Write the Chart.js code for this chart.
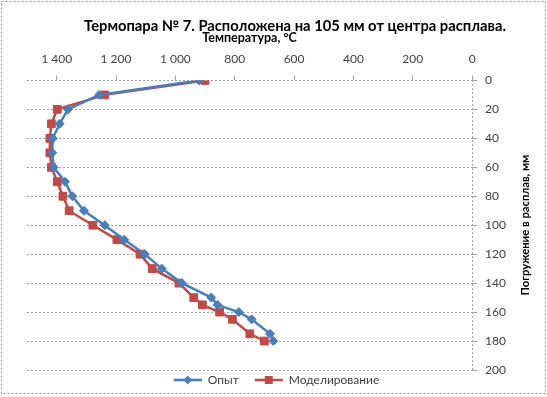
<!DOCTYPE html>
<html>
<head>
<meta charset="utf-8">
<script src="https://cdn.jsdelivr.net/npm/chart.js@4"></script>
<style>
  html, body { margin: 0; padding: 0; background: #fff; }
  #wrap { width: 547px; height: 397px; }
</style>
</head>
<body>
<div id="wrap"><canvas id="chart"></canvas></div>
<script>
// глубина погружения, мм
const depths = [0, 10, 20, 30, 40, 50, 60, 70, 80, 90, 100, 110, 120, 130, 140, 150, 155, 160, 165, 175, 180];
// температура, °С
const opyt = [920, 1257, 1362, 1390, 1413, 1415, 1410, 1372, 1347, 1308, 1238, 1172, 1103, 1046, 978, 879, 858, 786, 743, 681, 670];
const model = [900, 1238, 1398, 1418, 1423, 1423, 1418, 1398, 1379, 1358, 1278, 1197, 1119, 1078, 988, 938, 909, 851, 808, 749, 700];

const tempTicks = [0, 200, 400, 600, 800, 1000, 1200, 1400];
const depthTicks = [0, 20, 40, 60, 80, 100, 120, 140, 160, 180, 200];

const titleText = 'Термопара № 7. Расположена на 105 мм от центра расплава.';
const xTitle = 'Температура, °С';
const yTitle = 'Погружение в расплав, мм';

const blue = '#4A7EBB';
const red = '#BE4B48';
const labelColor = '#404040';
const gridColor = '#a0a0a0';

Chart.defaults.font.family = 'Lato';

function fmt(v) {
    if (v >= 1000) return Math.floor(v / 1000) + ' ' + String(v % 1000).padStart(3, '0');
    return String(v);
}

// small line + marker picture for the legend, Excel style
function legendMarker(color, shape) {
    const c = document.createElement('canvas');
    c.width = 40; c.height = 10;
    const g = c.getContext('2d');
    g.strokeStyle = color;
    g.lineWidth = 2.5;
    g.beginPath(); g.moveTo(12, 5); g.lineTo(40, 5); g.stroke();
    g.fillStyle = color;
    g.beginPath();
    if (shape === 'diamond') {
        g.moveTo(26, 0.5); g.lineTo(30.5, 5); g.lineTo(26, 9.5); g.lineTo(21.5, 5); g.closePath();
    } else {
        g.rect(22, 1, 8, 8);
    }
    g.fill();
    return c;
}
const markers = [legendMarker(blue, 'diamond'), legendMarker(red, 'square')];

const decor = {
    id: 'decor',
    afterDraw(chart) {
        const ctx = chart.ctx;
        const area = chart.chartArea;
        ctx.save();
        // chart border
        ctx.setLineDash([2, 2]);
        ctx.strokeStyle = '#8c8c8c';
        ctx.lineWidth = 1;
        ctx.strokeRect(1.5, 1.5, 544, 392);
        ctx.setLineDash([]);
        // title
        ctx.fillStyle = '#000';
        ctx.textAlign = 'center';
        ctx.textBaseline = 'middle';
        ctx.font = 'bold 14.75px Lato';
        ctx.fillText(titleText, 295, 26);
        // y axis title, reading upwards
        ctx.translate(525, (area.top + area.bottom) / 2);
        ctx.rotate(-Math.PI / 2);
        ctx.font = 'bold 11.3px Lato';
        ctx.fillText(yTitle, 0, 0);
        ctx.restore();
    }
};

new Chart(document.getElementById('chart'), {
    type: 'scatter',
    data: {
        datasets: [
            {
                label: 'Опыт',
                data: depths.map((d, i) => ({ x: opyt[i], y: d })),
                showLine: true,
                borderColor: blue,
                backgroundColor: blue,
                borderWidth: 2.5,
                pointStyle: 'rectRot',
                pointRadius: 4.5,
                pointBorderWidth: 1,
                order: 1
            },
            {
                label: 'Моделирование',
                data: depths.map((d, i) => ({ x: model[i], y: d })),
                showLine: true,
                borderColor: red,
                backgroundColor: red,
                borderWidth: 2.5,
                pointStyle: 'rect',
                pointRadius: 5.5,
                pointBorderWidth: 1,
                order: 2
            }
        ]
    },
    options: {
        responsive: true,
        maintainAspectRatio: false,
        animation: false,
        layout: {
            padding: { top: 30, left: 27, right: 33, bottom: 1 }
        },
        plugins: {
            title: { display: false },
            tooltip: { enabled: false },
            legend: {
                position: 'bottom',
                labels: {
                    usePointStyle: true,
                    pointStyleWidth: 40,
                    padding: 4,
                    color: labelColor,
                    font: { size: 12 },
                    generateLabels(chart) {
                        return chart.data.datasets.map((ds, i) => ({
                            text: ds.label,
                            pointStyle: markers[i],
                            fillStyle: ds.backgroundColor,
                            strokeStyle: ds.borderColor,
                            lineWidth: 0,
                            hidden: false,
                            datasetIndex: i,
                            fontColor: labelColor
                        }));
                    }
                }
            }
        },
        scales: {
            x: {
                type: 'linear',
                position: 'top',
                reverse: true,
                min: 0,
                max: 1500,
                afterBuildTicks: axis => { axis.ticks = tempTicks.map(v => ({ value: v })); },
                ticks: {
                    color: labelColor,
                    font: { size: 12 },
                    padding: 9,
                    maxRotation: 0,
                    callback: v => fmt(v)
                },
                grid: {
                    color: ctx => (ctx.tick && ctx.tick.value === 0) ? gridColor : 'rgba(0,0,0,0)',
                    tickColor: gridColor,
                    tickLength: 5
                },
                border: { display: false, dash: [2, 2] },
                title: {
                    display: true,
                    text: xTitle,
                    color: '#000',
                    font: { size: 12.5, weight: 'bold' },
                    padding: { top: 0, bottom: -2 }
                }
            },
            y: {
                type: 'linear',
                position: 'right',
                reverse: true,
                min: 0,
                max: 200,
                afterBuildTicks: axis => { axis.ticks = depthTicks.map(v => ({ value: v })); },
                ticks: {
                    color: labelColor,
                    font: { size: 12 },
                    padding: 8
                },
                grid: {
                    color: gridColor,
                    tickColor: gridColor,
                    tickLength: 5
                },
                border: { display: false, dash: [2, 2] }
            }
        }
    },
    plugins: [decor]
});
</script>
</body>
</html>
